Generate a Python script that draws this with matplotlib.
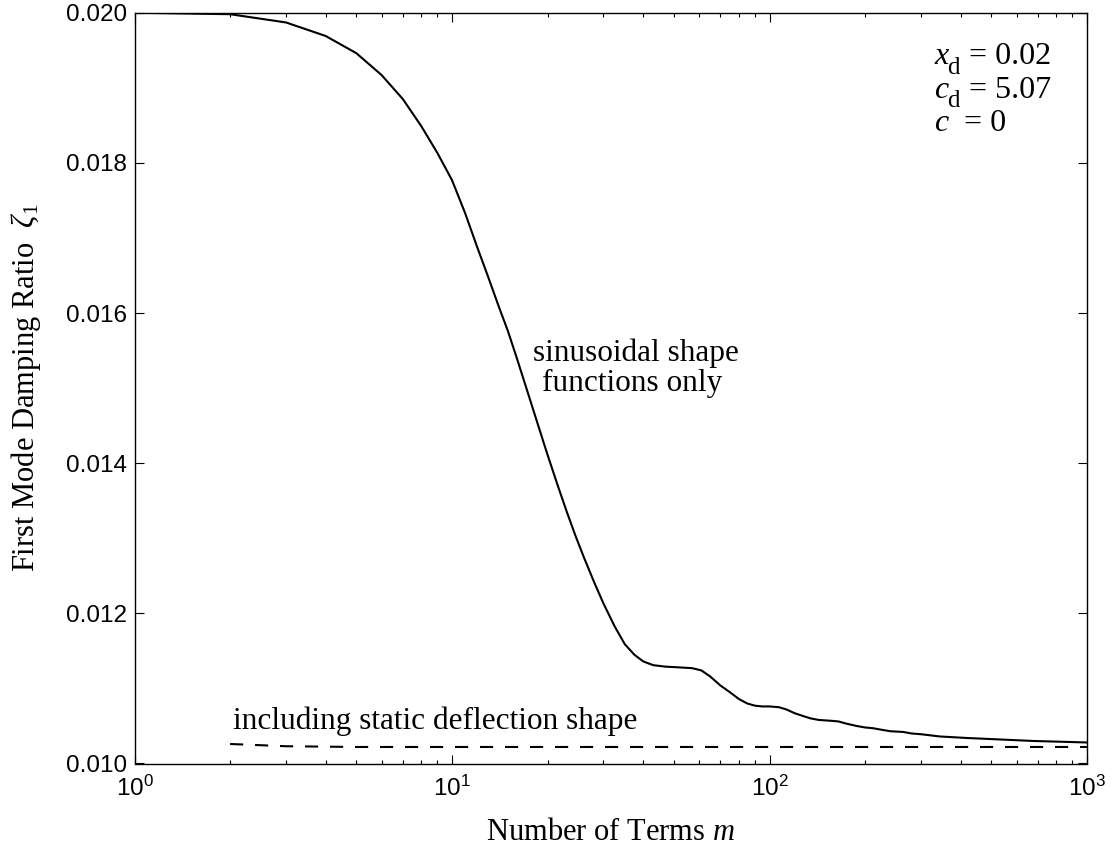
import numpy as np
import matplotlib
matplotlib.use('Agg')
import matplotlib.pyplot as plt
from matplotlib.ticker import FuncFormatter, FormatStrFormatter, FixedLocator

plt.rcParams['font.family'] = 'Liberation Sans'
plt.rcParams['mathtext.fontset'] = 'custom'
plt.rcParams['mathtext.rm'] = 'Liberation Serif'
plt.rcParams['mathtext.it'] = 'Liberation Serif:italic'
plt.rcParams['mathtext.bf'] = 'Liberation Serif:bold'
plt.rcParams['mathtext.sf'] = 'Liberation Sans'

# sinusoidal shape functions only
m_sin = [1, 2, 3, 4, 5, 6, 7, 8, 9, 10, 11, 12, 13, 14, 15, 16, 17, 18.5, 20,
         21.5, 23, 24.5, 26, 28, 30, 32.5, 35, 37.5, 40, 43, 47, 52, 57, 61, 65,
         70, 75, 80, 85, 90, 95, 100, 107, 113, 120, 128, 135, 143, 155, 165,
         175, 188, 200, 212, 225, 240, 264, 280, 300, 344, 418, 532, 678, 1000]
zeta_sin = [0.02000, 0.01998, 0.01987, 0.01969, 0.01946, 0.01917, 0.01885, 0.01849,
            0.01813, 0.01777, 0.01733, 0.01688, 0.01648, 0.01610, 0.01576, 0.01540,
            0.01505, 0.01456, 0.01411, 0.01371, 0.01335, 0.01303, 0.01275, 0.01242,
            0.01213, 0.01183, 0.01159, 0.01145, 0.01136, 0.01131, 0.01129, 0.01128,
            0.01127, 0.01124, 0.01116, 0.01104, 0.01095, 0.01086, 0.01080, 0.01077,
            0.01076, 0.01076, 0.01075, 0.01072, 0.01067, 0.01063, 0.01060, 0.01058,
            0.01057, 0.01056, 0.01053, 0.01050, 0.01048, 0.01047, 0.01045, 0.01043,
            0.01042, 0.01040, 0.01039, 0.01036, 0.01034, 0.01032, 0.01030, 0.01028]

# including static deflection shape
m_sta = [2, 3, 5, 10, 100, 1000]
zeta_sta = [0.01026, 0.01023, 0.01022, 0.01022, 0.01022, 0.01022]

params_var = ['x', 'c', 'c']
params_sub = ['d', 'd', '']
params_val = ['= 0.02', '= 5.07', '= 0']

W, H = 1112, 851
fig = plt.figure(figsize=(W/100, H/100), dpi=100)
x0, x1, y0, y1 = 134.5, 1087, 12.7, 763.5
ax = fig.add_axes([x0/W, 1-y1/H, (x1-x0)/W, (y1-y0)/H])

ax.plot(m_sin, zeta_sin, '-', color='k', lw=1.5)
ln, = ax.plot(m_sta, zeta_sta, '--', color='k', lw=1.5)
ln.set_dashes((6.3, 5.7))

ax.set_xscale('log')
ax.set_xlim(1, 1000)
ax.set_ylim(0.010, 0.020)
ax.yaxis.set_major_locator(FixedLocator([0.010, 0.012, 0.014, 0.016, 0.018, 0.020]))
ax.yaxis.set_major_formatter(FormatStrFormatter('%.3f'))
ax.xaxis.set_major_formatter(FuncFormatter(lambda v, p: r'$\mathsf{10^{%d}}$' % round(np.log10(v))))

ax.tick_params(which='both', direction='in', top=True, right=True, width=0.8)
ax.tick_params(which='major', length=6.5, labelsize=17.5)
ax.tick_params(which='minor', length=3.2)
ax.tick_params(axis='x', pad=9)
ax.tick_params(axis='y', pad=5.5)
for s in ax.spines.values():
    s.set_linewidth(1.0)

ax.set_xlabel('Number of Terms $m$', family='Liberation Serif', fontsize=22)
ax.set_ylabel('First Mode Damping Ratio  $\\zeta_1$', family='Liberation Serif', fontsize=22)
ax.xaxis.set_label_coords(0.5, -0.072)
ax.yaxis.set_label_coords(-0.096, 0.5)

serif = dict(family='Liberation Serif', fontsize=22.5, va='baseline')
ax.text(2.05, 0.010462, 'including static deflection shape', ha='left', **serif)
ax.text(38, 0.015355, 'sinusoidal shape', ha='center', **serif)
ax.text(37, 0.014955, 'functions only', ha='center', **serif)

# parameter block, upper right
ys = [0.9313, 0.8868, 0.8424]
xv = [0.8765, 0.8765, 0.8705]
for var, sub, val, yy, xx in zip(params_var, params_sub, params_val, ys, xv):
    ax.text(0.8394, yy, var, transform=ax.transAxes, family='Liberation Serif',
            style='italic', fontsize=23, va='baseline')
    if sub:
        ax.text(0.8531, yy-0.0125, sub, transform=ax.transAxes, family='Liberation Serif',
                fontsize=18, va='baseline')
    ax.text(xx, yy, val, transform=ax.transAxes, family='Liberation Serif',
            fontsize=23, va='baseline')

fig.savefig('out.png', dpi=100)
